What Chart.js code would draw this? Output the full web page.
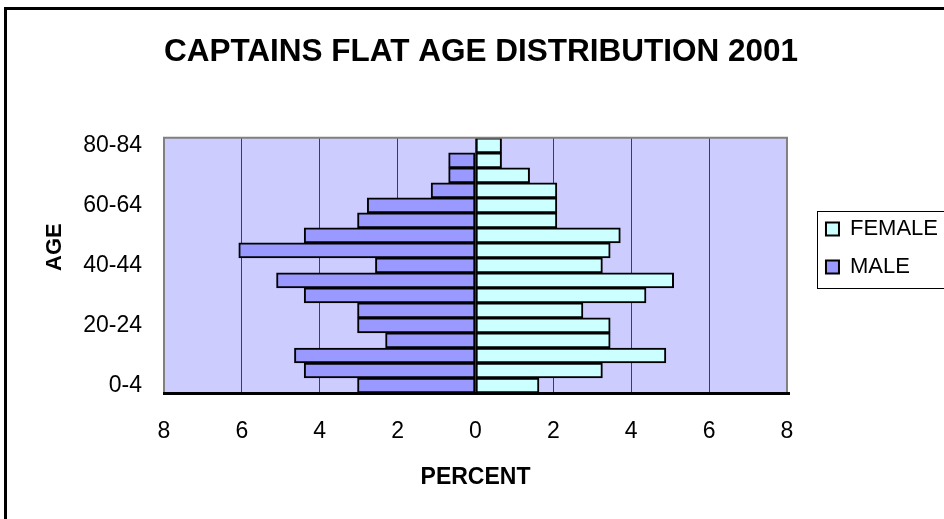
<!DOCTYPE html>
<html>
<head>
<meta charset="utf-8">
<script src="https://cdn.jsdelivr.net/npm/chart.js@4/dist/chart.umd.min.js"></script>
<style>
  html, body { margin: 0; padding: 0; background: #fff; overflow: hidden; }
  #wrap { position: relative; width: 944px; height: 519px; }
</style>
</head>
<body>
<div id="wrap"><canvas id="chart1"></canvas></div>
<script>
// age groups, youngest first (drawn bottom to top)
var ageGroups = ["0-4", "5-9", "10-14", "15-19", "20-24", "25-29", "30-34", "35-39",
    "40-44", "45-49", "50-54", "55-59", "60-64", "65-69", "70-74", "75-79", "80-84"];

// percent of population
var femaleValues = [1.63, 3.26, 4.89, 3.46, 3.46, 2.76, 4.38, 5.09,
    3.26, 3.46, 3.72, 2.09, 2.09, 2.09, 1.39, 0.67, 0.67];
var maleValues = [3.03, 4.40, 4.65, 2.31, 3.03, 3.03, 4.40, 5.11,
    2.57, 6.08, 4.40, 3.03, 2.78, 1.14, 0.69, 0.69, 0];

var xTicks = [-8, -6, -4, -2, 0, 2, 4, 6, 8];
var shownAgeLabels = ["0-4", "20-24", "40-44", "60-64", "80-84"];

var fontFamily = "'Liberation Sans', Arial, sans-serif";

// male bars go to the left of zero
var maleNegative = maleValues.map(function (v) { return -v; });

// frame, plot background and legend box
var decorPlugin = {
    id: "decor",
    beforeDraw: function (chart) {
        var ctx = chart.ctx;
        var area = chart.chartArea;
        ctx.save();
        ctx.fillStyle = "#ffffff";
        ctx.fillRect(0, 0, chart.width, chart.height);
        ctx.strokeStyle = "#000000";
        ctx.lineWidth = 3;
        ctx.strokeRect(5.5, 8.5, 1200, 1200);
        ctx.fillStyle = "#ccccff";
        ctx.fillRect(area.left, area.top, area.right - area.left, area.bottom - area.top);
        ctx.restore();
    },
    afterDraw: function (chart) {
        var ctx = chart.ctx;
        var area = chart.chartArea;
        var boxes = chart.legend.legendHitBoxes;
        ctx.save();
        ctx.strokeStyle = "#808080";
        ctx.lineWidth = 2;
        ctx.beginPath();
        ctx.moveTo(area.left, area.bottom);
        ctx.lineTo(area.left, area.top);
        ctx.lineTo(area.right, area.top);
        ctx.lineTo(area.right, area.bottom);
        ctx.stroke();
        // thick base line
        ctx.strokeStyle = "#000000";
        ctx.lineWidth = 3;
        ctx.beginPath();
        ctx.moveTo(area.left - 1, area.bottom + 0.5);
        ctx.lineTo(area.right + 3, area.bottom + 0.5);
        ctx.stroke();
        // legend border, runs off the right edge like the original
        if (boxes && boxes.length) {
            var first = boxes[0];
            var last = boxes[boxes.length - 1];
            var top = first.top - 7;
            var bottom = last.top + last.height + 10;
            ctx.lineWidth = 1;
            ctx.strokeRect(Math.round(first.left - 9) + 0.5, Math.round(top) + 0.5, 400, Math.round(bottom - top));
        }
        ctx.restore();
    }
};

var chart = new Chart(document.getElementById("chart1"), {
    type: "bar",
    data: {
        labels: ageGroups,
        datasets: [
            {
                label: "FEMALE",
                data: femaleValues,
                backgroundColor: "#ccffff",
                borderColor: "#000000",
                borderWidth: 2,
                borderSkipped: false,
                barPercentage: 1,
                categoryPercentage: 1
            },
            {
                label: "MALE",
                data: maleNegative,
                backgroundColor: "#9999ff",
                borderColor: "#000000",
                borderWidth: 2,
                borderSkipped: false,
                barPercentage: 1,
                categoryPercentage: 1
            }
        ]
    },
    options: {
        indexAxis: "y",
        responsive: true,
        maintainAspectRatio: false,
        animation: false,
        layout: { padding: { left: 14, right: -4, top: 0, bottom: 23 } },
        plugins: {
            title: {
                display: true,
                text: "CAPTAINS FLAT AGE DISTRIBUTION 2001",
                color: "#000000",
                font: { family: fontFamily, size: 31.5, weight: "bold" },
                padding: { top: 33, bottom: 67 }
            },
            legend: {
                position: "right",
                align: "center",
                labels: {
                    color: "#000000",
                    font: { family: fontFamily, size: 22 },
                    boxWidth: 13,
                    boxHeight: 13,
                    padding: 16
                }
            },
            tooltip: { enabled: false }
        },
        scales: {
            x: {
                stacked: true,
                min: -8,
                max: 8,
                afterBuildTicks: function (axis) {
                    axis.ticks = xTicks.map(function (v) { return { value: v }; });
                },
                afterFit: function (s) { s.height = 103; },
                ticks: {
                    color: "#000000",
                    font: { family: fontFamily, size: 23 },
                    padding: 25,
                    maxRotation: 0,
                    callback: function (v) { return Math.abs(v); }
                },
                grid: {
                    drawTicks: false,
                    color: function (c) {
                        return Math.abs(c.tick.value) === 8 ? "#808080" : "#404040";
                    }
                },
                border: { display: false },
                title: {
                    display: true,
                    text: "PERCENT",
                    color: "#000000",
                    font: { family: fontFamily, size: 23, weight: "bold" },
                    padding: { top: 18, bottom: 5 }
                }
            },
            y: {
                stacked: true,
                reverse: true,
                grid: { display: false, drawTicks: false },
                border: { display: false },
                afterFit: function (s) { s.width = 150; },
                ticks: {
                    autoSkip: false,
                    color: "#000000",
                    font: { family: fontFamily, size: 23 },
                    padding: 22,
                    callback: function (v) {
                        var lab = this.getLabelForValue(v);
                        return shownAgeLabels.indexOf(lab) >= 0 ? lab : "";
                    }
                },
                title: {
                    display: true,
                    // leading spaces nudge the word up a little, as in the original
                    text: "      AGE",
                    color: "#000000",
                    font: { family: fontFamily, size: 22, weight: "bold" },
                    padding: { top: 28, bottom: 12 }
                }
            },
            // empty strip between plot and legend
            gap: {
                type: "category",
                position: "right",
                display: true,
                grid: { display: false, drawTicks: false },
                border: { display: false },
                ticks: { display: false },
                afterFit: function (s) { s.width = 23; }
            }
        }
    },
    plugins: [decorPlugin]
});
</script>
</body>
</html>
